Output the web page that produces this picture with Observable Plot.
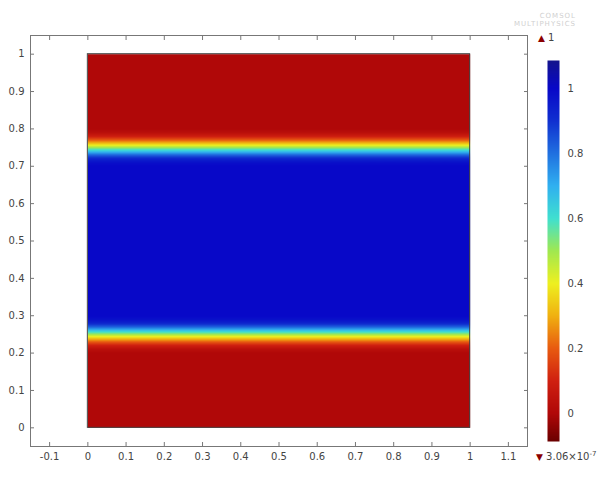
<!DOCTYPE html>
<html>
<head>
<meta charset="utf-8">
<script src="https://cdn.jsdelivr.net/npm/d3@7"></script>
<script src="https://cdn.jsdelivr.net/npm/@observablehq/plot@0.6"></script>
<style>
  html, body { margin: 0; padding: 0; background: #fff; }
  #wrap { position: relative; width: 600px; height: 488px; font-family: "DejaVu Sans", sans-serif; color: #444; }
  #main, #cbar { position: absolute; top: 0; }
  #main { left: 0; }
  #cbar { left: 540px; }
  .lab { position: absolute; font-size: 10px; color: #444; white-space: nowrap; }
  .tri { color: #8b0000; font-size: 9px; }
  .wm { position: absolute; font-size: 7px; color: #d0d0d0; letter-spacing: 1px; text-align: right; line-height: 8px; }
</style>
</head>
<body>
<div id="wrap">
  <div id="main"></div>
  <div id="cbar"></div>
  <div class="lab" style="left:538px; top:32px;"><span class="tri">▲</span> 1</div>
  <div class="lab" style="left:536px; top:450px;"><span class="tri">▼</span> 3.06×10<sup style="font-size:7px;">-7</sup></div>
  <div class="wm" style="left:500px; top:12px; width:76px;">COMSOL<br>MULTIPHYSICS</div>
</div>
<script>
// Axis ticks
const xTicks = [-0.1, 0, 0.1, 0.2, 0.3, 0.4, 0.5, 0.6, 0.7, 0.8, 0.9, 1, 1.1];
const yTicks = [0, 0.1, 0.2, 0.3, 0.4, 0.5, 0.6, 0.7, 0.8, 0.9, 1];

// Field profile across y, constant along x
const profileY = [0, 0.20, 0.21, 0.22, 0.23, 0.24, 0.25, 0.26, 0.27, 0.28, 0.29, 0.30,
                  0.70, 0.71, 0.72, 0.73, 0.74, 0.75, 0.76, 0.77, 0.78, 0.79, 0.80, 1];
const profileU = [0, 0, 0.03, 0.09, 0.20, 0.34, 0.50, 0.66, 0.82, 0.93, 0.98, 1,
                  1, 0.98, 0.93, 0.82, 0.66, 0.50, 0.34, 0.20, 0.09, 0.03, 0, 0];
const domainX = [0, 1];

// Colour bar
const cbTicks = [0, 0.2, 0.4, 0.6, 0.8, 1];
const cbRange = [-0.086, 1.086];
const cbStops  = [-0.086, 0, 0.1, 0.2, 0.3, 0.4, 0.5, 0.6, 0.7, 0.8, 0.9, 1.0, 1.086];
const cbColors = ["#6a0000", "#b00808", "#d02010", "#e85a10", "#f0b010", "#eef020", "#a0e850",
                  "#40e0d0", "#30b0f0", "#2070e0", "#1030d0", "#0808c8", "#14148c"];

const colorScale = {type: "linear", domain: cbStops, range: cbColors, interpolate: "rgb"};

const points = [];
for (const x of domainX) profileY.forEach((y, i) => points.push({x, y, u: profileU[i]}));

const fmt = d => String(d);
const style = {fontFamily: "DejaVu Sans, sans-serif", fontSize: "10px", color: "#444", background: "transparent"};

const main = Plot.plot({
  width: 600, height: 488,
  marginLeft: 30, marginRight: 73, marginTop: 35, marginBottom: 42,
  x: {domain: [-0.15, 1.15], label: null},
  y: {domain: [-0.05, 1.05], label: null},
  color: colorScale,
  style,
  marks: [
    Plot.raster(points, {x: "x", y: "y", fill: "u", interpolate: "barycentric",
      x1: d3.min(domainX), x2: d3.max(domainX), y1: d3.min(profileY), y2: d3.max(profileY),
      width: 100, height: 400, imageRendering: "auto"}),
    Plot.rect([{}], {x1: d3.min(domainX), x2: d3.max(domainX), y1: d3.min(profileY), y2: d3.max(profileY),
      fill: "none", stroke: "#444", strokeWidth: 1}),
    Plot.frame({stroke: "#777"}),
    Plot.axisX({anchor: "bottom", label: null, ticks: xTicks, tickSize: -4, tickPadding: 10, tickFormat: fmt, stroke: "#777", fill: "#444"}),
    Plot.axisX({anchor: "top", label: null, ticks: xTicks, tickSize: -4, tickFormat: () => "", stroke: "#777"}),
    Plot.axisY({anchor: "left", label: null, ticks: yTicks, tickSize: -4, tickPadding: 10, tickFormat: fmt, stroke: "#777", fill: "#444"}),
    Plot.axisY({anchor: "right", label: null, ticks: yTicks, tickSize: -4, tickFormat: () => "", stroke: "#777"})
  ]
});
document.getElementById("main").append(main);

const cbar = Plot.plot({
  width: 60, height: 488,
  marginLeft: 7, marginRight: 41, marginTop: 60, marginBottom: 47,
  x: {domain: [0, 1], axis: null},
  y: {domain: cbRange, label: null},
  color: colorScale,
  style,
  marks: [
    Plot.raster({x1: 0, x2: 1, y1: cbRange[0], y2: cbRange[1], width: 1, height: 381,
      fill: (x, y) => y, imageRendering: "auto"}),
    Plot.axisY({anchor: "right", label: null, ticks: cbTicks, tickSize: 0, tickPadding: 8, tickFormat: fmt, fill: "#444"})
  ]
});
document.getElementById("cbar").append(cbar);
</script>
</body>
</html>
